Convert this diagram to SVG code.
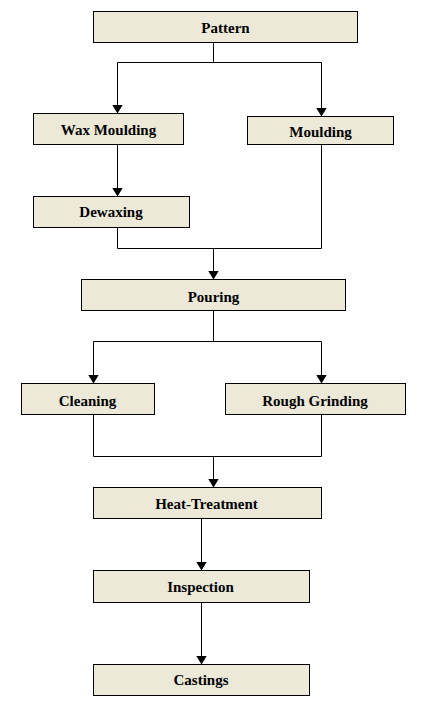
<svg xmlns="http://www.w3.org/2000/svg" width="423" height="704" viewBox="0 0 423 704">
<style>
.box{fill:#ECE9D8;stroke:#000;stroke-width:1}
.lbl{font-family:"Liberation Serif","Times New Roman",serif;font-weight:bold;font-size:15px;fill:#000;text-anchor:middle}
.c{fill:none;stroke:#000;stroke-width:1}
</style>
<defs>
<marker id="arr" viewBox="0 0 9 11" refX="9" refY="5.5" markerWidth="9" markerHeight="11" markerUnits="userSpaceOnUse" orient="auto">
<path d="M0,0 L9,5.5 L0,11 z" fill="#000"/>
</marker>
</defs>
<rect width="423" height="704" fill="#fff"/>
<g id="connectors">
<path class="c" d="M213.5,42.5 V62.5 M117.5,62.5 H321.5"/>
<path class="c" d="M117.5,62.5 V113.5" marker-end="url(#arr)"/>
<path class="c" d="M321.5,62.5 V116.5" marker-end="url(#arr)"/>
<path class="c" d="M117.5,144.5 V196.5" marker-end="url(#arr)"/>
<path class="c" d="M117.5,227.5 V248.5 H321.5 V144.5"/>
<path class="c" d="M213.5,248.5 V279.5" marker-end="url(#arr)"/>
<path class="c" d="M213.5,310.5 V341.5 M93.5,341.5 H321.5"/>
<path class="c" d="M93.5,341.5 V383.5" marker-end="url(#arr)"/>
<path class="c" d="M321.5,341.5 V383.5" marker-end="url(#arr)"/>
<path class="c" d="M93.5,414.5 V456.5 H321.5 V414.5"/>
<path class="c" d="M213.5,456.5 V487.5" marker-end="url(#arr)"/>
<path class="c" d="M201.5,518.5 V570.5" marker-end="url(#arr)"/>
<path class="c" d="M201.5,602.5 V664.5" marker-end="url(#arr)"/>
</g>
<g id="pattern"><rect class="box" x="93.5" y="11.5" width="264" height="31"/><text class="lbl" x="225.5" y="33">Pattern</text></g>
<g id="wax-moulding"><rect class="box" x="33.5" y="113.5" width="150" height="31"/><text class="lbl" x="108.5" y="135">Wax Moulding</text></g>
<g id="moulding"><rect class="box" x="247.5" y="116.5" width="146" height="28"/><text class="lbl" x="320.5" y="136.5">Moulding</text></g>
<g id="dewaxing"><rect class="box" x="33.5" y="196.5" width="156" height="31"/><text class="lbl" x="111" y="217">Dewaxing</text></g>
<g id="pouring"><rect class="box" x="81.5" y="279.5" width="264" height="31"/><text class="lbl" x="213.5" y="301.5">Pouring</text></g>
<g id="cleaning"><rect class="box" x="21.5" y="383.5" width="133" height="31"/><text class="lbl" x="87.5" y="405.5">Cleaning</text></g>
<g id="rough-grinding"><rect class="box" x="225.5" y="383.5" width="180" height="31"/><text class="lbl" x="315" y="405.5">Rough Grinding</text></g>
<g id="heat-treatment"><rect class="box" x="93.5" y="487.5" width="228" height="31"/><text class="lbl" x="206.5" y="509">Heat-Treatment</text></g>
<g id="inspection"><rect class="box" x="93.5" y="570.5" width="216" height="32"/><text class="lbl" x="200.5" y="591.5">Inspection</text></g>
<g id="castings"><rect class="box" x="93.5" y="664.5" width="216" height="31"/><text class="lbl" x="201" y="685">Castings</text></g>
</svg>
